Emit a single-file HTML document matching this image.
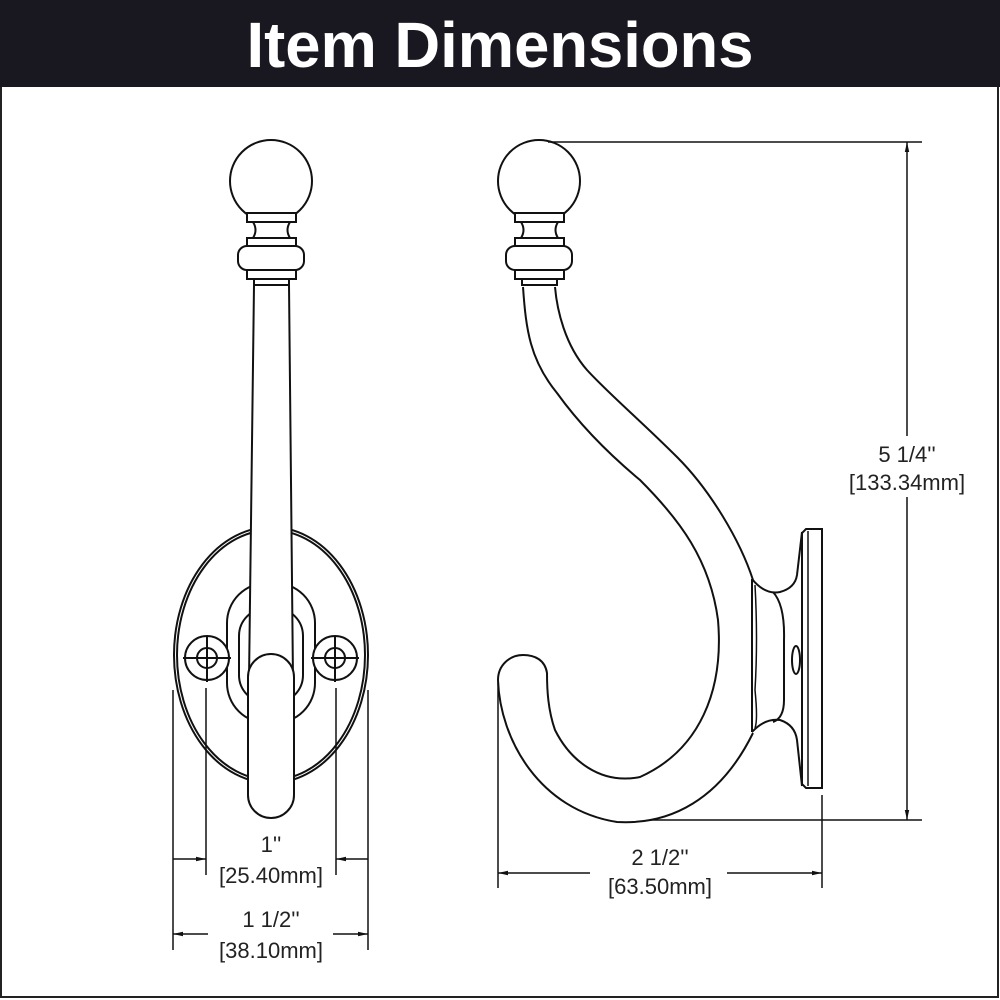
<!DOCTYPE html>
<html><head><meta charset="utf-8"><style>
html,body{margin:0;padding:0;background:#fff;}
svg{display:block;}
text{font-family:"Liberation Sans",sans-serif;fill:#222;}
</style></head><body>
<svg width="1000" height="1000" viewBox="0 0 1000 1000" xmlns="http://www.w3.org/2000/svg">
<defs>
<marker id="ar" viewBox="0 0 10 6" refX="10" refY="3" markerWidth="10" markerHeight="6" markerUnits="userSpaceOnUse" orient="auto"><path d="M0,0.8 L10,3 L0,5.2 Z" fill="#111"/></marker>
</defs>
<rect x="0" y="0" width="1000" height="1000" fill="#fff"/>
<rect x="1" y="1" width="997" height="996" fill="none" stroke="#222" stroke-width="2"/>
<rect x="0" y="0" width="1000" height="87" fill="#191820"/>
<text x="500" y="67" text-anchor="middle" font-size="64" font-weight="bold" style="fill:#fff" textLength="507" lengthAdjust="spacingAndGlyphs">Item Dimensions</text>

<g fill="none" stroke="#111" stroke-width="2">
<!-- FRONT VIEW -->
<ellipse cx="271" cy="655" rx="97" ry="128"/>
<ellipse cx="271" cy="655" rx="94" ry="125"/>
<rect x="227" y="583" width="88" height="140" rx="40" fill="#fff"/>
<rect x="239" y="608" width="64" height="95" rx="28"/>
<circle cx="207" cy="658" r="22" fill="#fff"/>
<circle cx="207" cy="658" r="10"/>
<line x1="183" y1="658" x2="231" y2="658"/><line x1="207" y1="636" x2="207" y2="682"/>
<circle cx="335" cy="658" r="22" fill="#fff"/>
<circle cx="335" cy="658" r="10"/>
<line x1="311" y1="658" x2="359" y2="658"/><line x1="335" y1="636" x2="335" y2="682"/>
<path d="M254,285 L289,285 L293,680 L249,680 Z" fill="#fff"/>
<rect x="248" y="654" width="46" height="164" rx="23" fill="#fff"/>
<circle cx="271" cy="181" r="41" fill="#fff"/>
<rect x="247" y="213" width="49" height="9" fill="#fff"/>
<path d="M253,222 Q258,230 253,238 L290,238 Q285,230 290,222 Z" fill="#fff"/>
<rect x="247" y="238" width="49" height="8" fill="#fff"/>
<rect x="238" y="246" width="66" height="24" rx="9" fill="#fff"/>
<rect x="247" y="270" width="49" height="9" fill="#fff"/>
<rect x="254" y="279" width="35" height="6" fill="#fff"/>

<!-- SIDE VIEW -->
<path d="M523,287 C526,330 530,360 557,393 C580,425 610,455 640,480 C680,520 710,560 718,620 C724,690 700,750 640,777 C600,785 570,760 555,730 C548,710 547,690 547,673 C545,660 535,655 523,655 C510,655 498,665 498,680 C500,740 540,810 617,822 C670,825 720,800 753,733"/>
<path d="M555,287 C557,310 565,345 587,370 C610,395 640,420 677,457 C710,490 740,540 753,580"/>
<circle cx="539" cy="181" r="41" fill="#fff"/>
<rect x="515" y="213" width="49" height="9" fill="#fff"/>
<path d="M521,222 Q526,230 521,238 L558,238 Q553,230 558,222 Z" fill="#fff"/>
<rect x="515" y="238" width="49" height="8" fill="#fff"/>
<rect x="506" y="246" width="66" height="24" rx="9" fill="#fff"/>
<rect x="515" y="270" width="49" height="9" fill="#fff"/>
<rect x="522" y="279" width="35" height="6" fill="#fff"/>
<!-- backplate -->
<path d="M752,579 L752,732"/>
<path d="M755,585 Q758,640 755,690 Q758,720 755,728" stroke-width="1.5"/>
<path d="M752,579 Q765,595 780,592 Q795,588 797,575 L802,532"/>
<path d="M773,592 Q785,605 784,640 L784,700 Q784,718 773,722"/>
<path d="M752,732 Q765,718 780,720 Q795,725 797,740 L802,786"/>
<path d="M806,529 L822,529 L822,788 L806,788 L802,784 L802,533 Z"/>
<line x1="808" y1="531" x2="808" y2="786" stroke-width="1.5"/>
<ellipse cx="796" cy="660" rx="4" ry="14"/>
</g>

<!-- DIMENSIONS -->
<g stroke="#111" stroke-width="1.5" fill="none">
<line x1="173" y1="690" x2="173" y2="950"/>
<line x1="368" y1="690" x2="368" y2="950"/>
<line x1="206" y1="688" x2="206" y2="875"/>
<line x1="336" y1="688" x2="336" y2="875"/>
<line x1="173" y1="859" x2="206" y2="859" marker-end="url(#ar)"/>
<line x1="368" y1="859" x2="336" y2="859" marker-end="url(#ar)"/>
<line x1="208" y1="934" x2="173" y2="934" marker-end="url(#ar)"/>
<line x1="333" y1="934" x2="368" y2="934" marker-end="url(#ar)"/>

<line x1="548" y1="142" x2="922" y2="142"/>
<line x1="650" y1="820" x2="922" y2="820"/>
<line x1="907" y1="436" x2="907" y2="142" marker-end="url(#ar)"/>
<line x1="907" y1="497" x2="907" y2="820" marker-end="url(#ar)"/>
<line x1="498" y1="682" x2="498" y2="888"/>
<line x1="822" y1="795" x2="822" y2="888"/>
<line x1="590" y1="873" x2="498" y2="873" marker-end="url(#ar)"/>
<line x1="727" y1="873" x2="822" y2="873" marker-end="url(#ar)"/>
</g>
<g font-size="22" text-anchor="middle">
<text x="271" y="852">1''</text>
<text x="271" y="883">[25.40mm]</text>
<text x="271" y="927">1 1/2''</text>
<text x="271" y="958">[38.10mm]</text>
<text x="660" y="865">2 1/2''</text>
<text x="660" y="894">[63.50mm]</text>
<text x="907" y="462">5 1/4''</text>
<text x="907" y="490">[133.34mm]</text>
</g>
</svg>
</body></html>
